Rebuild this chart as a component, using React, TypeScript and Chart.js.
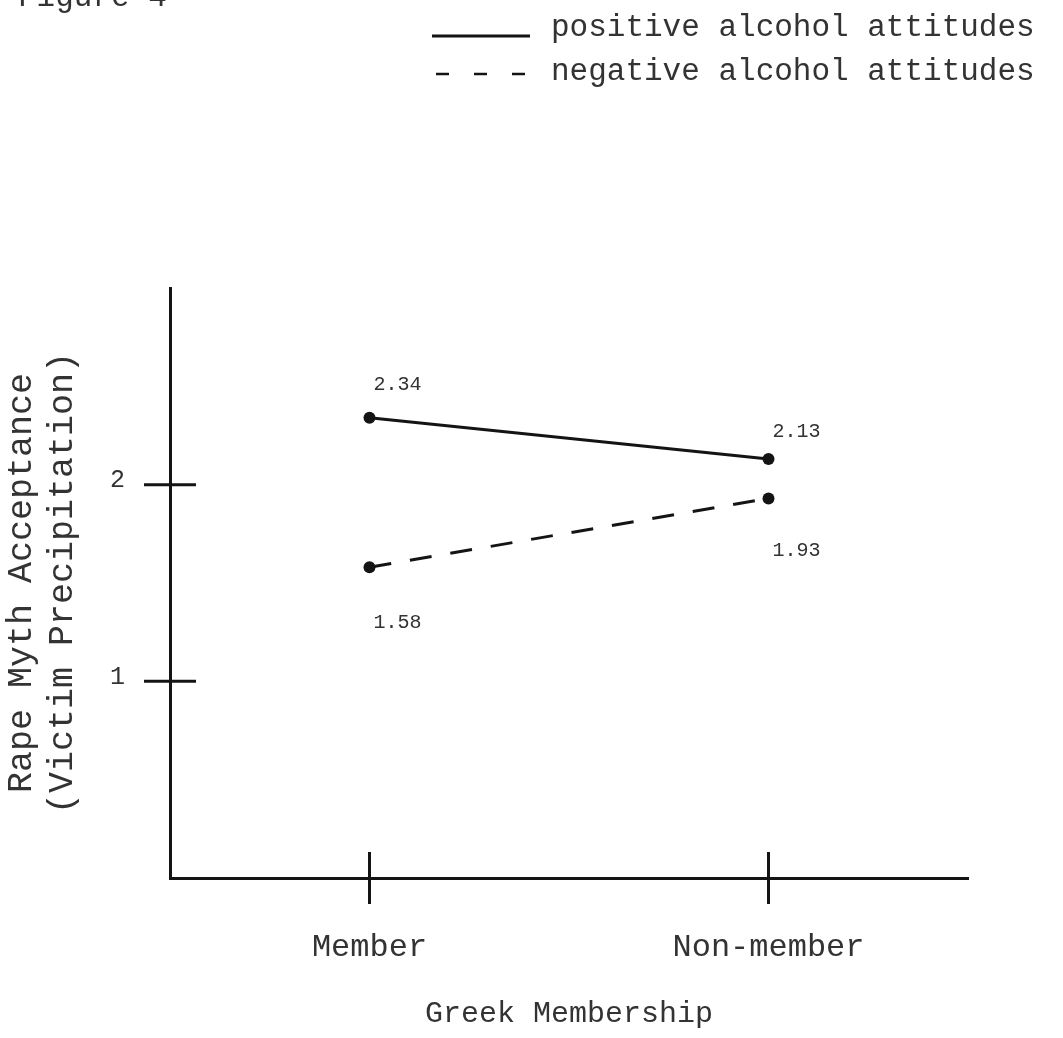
import React, { useEffect, useRef } from "react";
import { Chart, registerables } from "chart.js";

Chart.register(...registerables);

const categories = ["Member", "Non-member"];
const positiveValues = [2.34, 2.13];
const negativeValues = [1.58, 1.93];
const yTickValues = [1, 2];
const seriesNames = ["positive alcohol attitudes", "negative alcohol attitudes"];
const xTitle = "Greek Membership";
const yTitle = ["Rape Myth Acceptance", "(Victim Precipitation)"];
const figureLabel = "Figure 4";

const FONT = "'Liberation Mono', 'Courier New', monospace";
const INK = "#141414";
const TEXT = "#333333";

const overlay = {
  id: "overlay",
  afterDraw(chart: any) {
    const ctx = chart.ctx as CanvasRenderingContext2D;
    const area = chart.chartArea;
    const xs = chart.scales.x;
    const ys = chart.scales.y;
    const o = chart.options.plugins.overlay;
    ctx.save();
    ctx.strokeStyle = INK;
    ctx.lineWidth = 3;
    ctx.lineCap = "butt";
    const seg = (x1: number, y1: number, x2: number, y2: number) => {
      ctx.beginPath();
      ctx.moveTo(x1, y1);
      ctx.lineTo(x2, y2);
      ctx.stroke();
    };
    // cross ticks on y axis
    yTickValues.forEach((v) => {
      const py = ys.getPixelForValue(v);
      seg(area.left - o.tick, py, area.left + o.tick, py);
    });
    // cross ticks on x axis
    categories.forEach((_c, i) => {
      const px = xs.getPixelForValue(i);
      seg(px, area.bottom - o.tick, px, area.bottom + o.tick);
    });
    // value labels
    ctx.fillStyle = TEXT;
    ctx.font = `20px ${FONT}`;
    ctx.textAlign = "left";
    ctx.textBaseline = "middle";
    chart.data.datasets.forEach((ds: any, di: number) => {
      const meta = chart.getDatasetMeta(di);
      meta.data.forEach((pt: any, i: number) => {
        ctx.fillText(Number(ds.data[i]).toFixed(2), pt.x + 4, pt.y + o.labelDy[di][i]);
      });
    });
    // legend
    ctx.font = `31px ${FONT}`;
    ctx.fillStyle = TEXT;
    ctx.textBaseline = "middle";
    const lx = o.legendX;
    ctx.lineWidth = 3;
    seg(lx, o.legendY[0] + 8, lx + 98, o.legendY[0] + 8);
    ctx.fillText(seriesNames[0], lx + 119, o.legendY[0]);
    ctx.setLineDash([13, 25]);
    ctx.lineWidth = 2.5;
    seg(lx + 4, o.legendY[1] + 2, lx + 98, o.legendY[1] + 2);
    ctx.setLineDash([]);
    ctx.fillText(seriesNames[1], lx + 119, o.legendY[1]);
    // figure caption (cut by top edge)
    ctx.textBaseline = "alphabetic";
    ctx.fillText(figureLabel, 18, 6);
    ctx.restore();
  },
};

export default function App() {
  const ref = useRef<HTMLCanvasElement | null>(null);
  useEffect(() => {
    if (!ref.current) return;
    const chart = new Chart(ref.current, {
      type: "line",
      data: {
        labels: categories,
        datasets: [
          {
            label: seriesNames[0],
            data: positiveValues,
            borderColor: INK,
            backgroundColor: INK,
            borderWidth: 3,
            pointRadius: 6,
            pointBackgroundColor: INK,
            pointBorderWidth: 0,
            tension: 0,
          },
          {
            label: seriesNames[1],
            data: negativeValues,
            borderColor: INK,
            backgroundColor: INK,
            borderWidth: 3,
            borderDash: [22, 19],
            pointRadius: 6,
            pointBackgroundColor: INK,
            pointBorderWidth: 0,
            tension: 0,
          },
        ],
      },
      options: {
        animation: false,
        responsive: true,
        maintainAspectRatio: false,
        layout: { padding: { top: 288, right: 95, left: 0, bottom: 0 } },
        plugins: {
          legend: { display: false },
          tooltip: { enabled: false },
          title: { display: false },
          overlay: {
            tick: 26,
            labelDy: [
              [-33, -27],
              [55, 52],
            ],
            legendX: 432,
            legendY: [28, 72],
          },
        } as any,
        scales: {
          x: {
            type: "category",
            offset: true,
            grid: { display: false },
            border: { display: true, color: INK, width: 3 },
            ticks: {
              color: TEXT,
              font: { family: FONT, size: 32 },
              padding: 42,
              maxRotation: 0,
            },
            title: {
              display: true,
              text: xTitle,
              color: TEXT,
              font: { family: FONT, size: 30 },
              padding: { top: 0, bottom: 6 },
            },
            afterFit: (s: any) => {
              s.height = 160;
            },
          },
          y: {
            type: "linear",
            min: 0,
            max: 3,
            grid: { display: false },
            border: { display: true, color: INK, width: 3 },
            afterBuildTicks: (s: any) => {
              s.ticks = yTickValues.map((v) => ({ value: v }));
            },
            ticks: {
              color: TEXT,
              font: { family: FONT, size: 25 },
              padding: 37,
              labelOffset: -4,
              callback: (v: any) => String(v),
            },
            title: {
              display: true,
              text: yTitle,
              color: TEXT,
              font: { family: FONT, size: 35, lineHeight: 1.15 },
              padding: { top: 2, bottom: 0 },
            },
            afterFit: (s: any) => {
              s.width = 170;
            },
          },
        },
      },
      plugins: [overlay],
    });
    return () => chart.destroy();
  }, []);
  return (
    <div style={{ position: "absolute", left: 0, top: 0, width: 1063, height: 1038, background: "#fff" }}>
      <canvas ref={ref} />
    </div>
  );
}
